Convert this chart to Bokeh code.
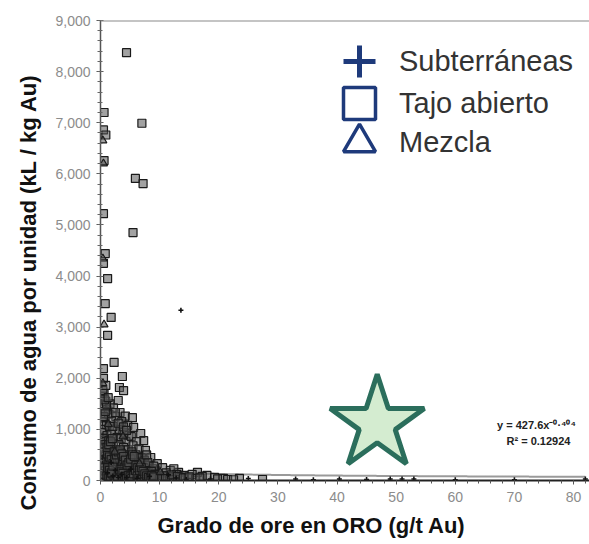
import numpy as np
from bokeh.plotting import figure
from bokeh.models import (Legend, LegendItem, Label, Span, Title,
                          SingleIntervalTicker, NumeralTickFormatter)
from bokeh.embed import file_html
from bokeh.resources import INLINE

# ---------------- data ----------------
# Tajo abierto (open pit) - squares
tajo_x = [4.4, 7.0, 5.9, 7.2, 5.5,
          0.6, 0.5, 0.9, 0.6, 0.5, 0.8, 0.5, 1.2, 0.8, 1.8, 1.2, 2.3, 0.5, 3.7, 0.5, 3.2, 3.9, 0.6, 3.0,
          0.3, 0.9, 0.5, 1.1, 0.4, 0.8, 0.3, 1.0, 0.6, 0.3, 1.1, 0.5, 0.9, 0.3, 0.7, 1.2, 0.4, 0.9, 0.3, 0.7,
          1.1, 0.4, 0.8, 0.3, 1.0, 0.5, 0.2, 0.2, 0.6,
          1.6, 2.2, 1.4, 2.6, 1.9, 1.5, 2.4, 1.8, 2.8, 1.4, 2.2, 1.7, 2.6, 1.5, 2.0, 2.9, 1.6, 2.3, 1.9, 2.7,
          1.4, 2.1, 2.5, 1.7, 2.9, 2.2, 1.5, 2.7, 2.0, 2.8,
          3.3, 4.2, 3.6, 4.6, 3.2, 4.0, 4.8, 3.5, 4.3, 3.1, 3.9, 4.7, 3.4, 4.2, 4.9, 3.6, 4.4, 3.2, 4.0, 4.7,
          3.5, 4.3, 3.1, 3.9, 4.6, 3.4, 4.2, 4.8, 3.7, 4.5,
          5.4, 5.6, 6.8, 7.3, 5.2, 6.1, 5.5, 6.5, 7.6, 5.3, 6.0, 6.9, 5.7, 6.4, 5.2, 6.1, 6.8, 5.5, 6.3, 5.8,
          6.7, 5.3, 6.0,
          8.5, 7.4, 9.6, 8.1, 7.2, 8.8, 9.4, 7.7, 8.4, 9.9, 7.3, 8.9, 9.5, 7.9,
          11.8, 13.2, 10.5, 12.4, 11.1, 12.9, 14.1, 10.7, 11.9, 13.6, 14.8, 10.3, 12.6,
          16.4, 18.0, 15.5, 17.2, 19.3, 20.8, 16.1, 21.5,
          27.4, 23.5,
          1.0, 1.3, 1.6, 1.9, 2.2, 2.5, 2.8, 3.1, 3.4, 3.7, 4.0,
          1.2, 1.5, 1.8, 2.1, 2.4, 2.7, 3.0, 3.3, 3.6, 3.9, 4.2,
          4.5, 4.8, 5.1, 5.4, 5.7, 6.0, 6.3, 6.6, 6.9, 7.1,
          1.1, 1.4, 1.7, 2.0, 2.3, 2.6, 2.9, 3.2, 3.5, 3.8, 4.1,
          4.4, 4.7, 5.0, 5.3, 5.6, 5.9, 6.2, 6.5, 6.8,
          0.5, 0.8, 1.0, 0.7, 0.4, 0.9, 1.3, 2.1, 3.0, 3.9, 4.4, 2.5,
          8.0, 9.0, 7.8, 8.6, 9.2, 10.0, 11.0, 12.0, 13.0, 14.0, 15.0, 16.8, 19.8, 22.5,
          1.1, 1.4, 1.7, 2.0, 2.3, 2.6, 2.9, 3.2, 3.5, 3.8, 4.1, 4.4, 4.7, 5.0, 5.3, 5.6, 5.9, 6.2,
          6.5, 6.8, 7.1, 7.4,
          1.2, 1.5, 1.8, 2.1, 2.4, 2.7, 3.0, 3.3, 3.6, 3.9, 4.2, 4.5, 4.8, 5.1, 5.4, 5.7, 6.0, 6.3,
          6.6, 6.9, 7.2, 7.5, 7.8, 8.1, 8.4, 8.7, 9.0]
tajo_y = [8370, 6990, 5910, 5810, 4850,
          7200, 6860, 6760, 6260, 5220, 4440, 4250, 3950, 3460, 3190, 2840, 2310, 2190, 2035, 2000, 1820, 1760, 1700, 1565,
          1650, 1550, 1460, 1380, 1300, 1220, 1150, 1080, 1000, 940, 880, 820, 760, 700, 640, 590, 530, 470, 410, 350,
          300, 240, 190, 130, 80, 30, 560, 260, 120,
          1500, 1420, 1300, 1250, 1160, 1060, 980, 900, 840, 780, 720, 650, 600, 540, 480, 440, 400, 360, 310, 270,
          230, 190, 150, 110, 80, 40, 20, 350, 250, 130,
          1330, 1260, 1150, 1080, 1000, 940, 880, 820, 760, 700, 650, 600, 550, 500, 460, 420, 380, 340, 300, 260,
          220, 180, 150, 110, 80, 50, 25, 140, 280, 330,
          1230, 1040, 920, 780, 860, 760, 680, 620, 590, 560, 500, 450, 400, 350, 300, 250, 210, 170, 130, 90,
          60, 30, 10,
          450, 400, 330, 300, 260, 230, 190, 160, 130, 100, 80, 60, 30, 20,
          200, 160, 250, 230, 150, 120, 100, 90, 70, 60, 40, 30, 20,
          160, 100, 120, 80, 60, 40, 40, 20,
          20, 40,
          420, 360, 300, 250, 200, 160, 120, 90, 70, 40, 20,
          520, 460, 410, 330, 280, 220, 180, 140, 100, 70, 120,
          200, 240, 160, 110, 60, 120, 180, 100, 150, 50,
          650, 700, 760, 820, 560, 480, 380, 450, 380, 320, 260,
          420, 340, 290, 380, 230, 320, 440, 280, 360,
          1250, 1350, 1480, 1580, 1760, 1860, 1620, 1060, 1120, 1050, 980, 1330,
          350, 280, 500, 180, 120, 60, 40, 110, 80, 50, 70, 50, 30, 15,
          90, 60, 30, 130, 90, 60, 30, 210, 170, 140, 80, 40, 100, 70, 40, 130, 200, 90,
          40, 20, 120, 60,
          250, 200, 150, 280, 420, 500, 560, 600, 520, 470, 400, 300, 350, 420, 500, 470, 300, 250,
          200, 250, 180, 130, 90, 60, 40, 100, 70]

# Subterráneas (underground) - crosses
sub_x = [13.6, 33.0, 40.4, 49.0, 51.0, 53.0, 82.0, 60.0, 70.0, 45.0, 36.0, 25.0,
         1.8, 2.5, 3.6, 4.4, 5.1, 1.2, 2.1, 3.0, 6.2, 8.3, 11.5, 12.8, 14.5, 18.6]
sub_y = [3330, 30, 30, 30, 30, 30, 30, 15, 15, 20, 15, 40,
         350, 200, 120, 60, 220, 150, 90, 60, 40, 80, 110, 50, 20, 30]

# Mezcla (mixed) - triangles
mez_x = [0.4, 0.5, 0.4, 0.6, 0.4, 1.3, 2.4, 3.8, 6.6, 10.1]
mez_y = [6650, 6200, 4340, 3050, 1900, 1100, 560, 860, 330, 160]

# highlighted point (star)
star_x = [46.8]
star_y = [1110]

# power-law trend line y = a * x^b, R^2
trend_a = 427.6
trend_b = -0.404
trend_r2 = 0.12924
trend_x = np.linspace(0.3, 82.0, 400)
trend_y = trend_a * trend_x ** trend_b

x_ticks_interval = 10
y_ticks_interval = 1000

# ---------------- figure ----------------
p = figure(width=589, height=544, x_range=(0, 82.7), y_range=(0, 9000),
           output_backend="svg", toolbar_location=None,
           min_border_left=100, min_border_right=0, min_border_top=20, min_border_bottom=64)
p.outline_line_color = None
p.xgrid.grid_line_color = None
p.ygrid.grid_line_color = None
p.background_fill_color = "white"
p.border_fill_color = "white"

p.add_layout(Span(location=9000, dimension="width", line_color="#8a8a8a", line_width=2))

TICK_FONT = "Liberation Sans"
xa = p.xaxis[0]
xa.ticker = SingleIntervalTicker(interval=x_ticks_interval, num_minor_ticks=5)
xa.axis_line_color = "#222222"
xa.axis_line_width = 2
xa.major_tick_line_color = "#555555"
xa.major_tick_in = 0
xa.major_tick_out = 4
xa.minor_tick_line_color = "#555555"
xa.minor_tick_in = 0
xa.minor_tick_out = 3
xa.major_label_text_font = TICK_FONT
xa.major_label_text_font_size = "14px"
xa.major_label_text_color = "#8c8c8c"
xa.major_label_standoff = 7

ya = p.yaxis[0]
ya.ticker = SingleIntervalTicker(interval=y_ticks_interval, num_minor_ticks=5)
ya.formatter = NumeralTickFormatter(format="0,0")
ya.axis_line_color = "#555555"
ya.axis_line_width = 1.5
ya.major_tick_line_color = "#555555"
ya.major_tick_in = 3
ya.major_tick_out = 4
ya.minor_tick_line_color = "#666666"
ya.minor_tick_in = 2
ya.minor_tick_out = 3
ya.major_label_text_font = TICK_FONT
ya.major_label_text_font_size = "14px"
ya.major_label_text_color = "#8c8c8c"
ya.major_label_standoff = 6

# axis titles (as side titles so they can be offset like the reference)
p.add_layout(Title(text="Grado de ore en ORO (g/t Au)", align="left", offset=57,
                   text_font="Liberation Sans", text_font_size="22px",
                   text_font_style="bold", text_color="#111111", standoff=13), "below")
p.add_layout(Title(text="Consumo de agua por unidad  (kL / kg Au)", align="left", offset=-30,
                   text_font="Liberation Sans", text_font_size="22px",
                   text_font_style="bold", text_color="#111111", standoff=24), "left")

# trend line
p.line(trend_x, trend_y, line_color="#9a9a9a", line_width=2)

# data
p.scatter(tajo_x, tajo_y, marker="square", size=8, line_color="#1a1a1a", line_width=1.2,
          fill_color="#555555", fill_alpha=0.55)
p.scatter(mez_x, mez_y, marker="triangle", size=8, line_color="#1a1a1a", line_width=1.2,
          fill_color="#555555", fill_alpha=0.55)
p.scatter(sub_x, sub_y, marker="cross", size=5, line_color="#111111", line_width=1.6)

p.scatter(star_x, star_y, marker="star", size=99, fill_color="#d4ecd0",
          line_color="#2b6e5c", line_width=5)

# equation
p.add_layout(Label(x=436, y=56, x_units="screen", y_units="screen",
                   text=f"y = {trend_a}x\u207b\u2070\u00b7\u2074\u2070\u2074",
                   text_align="center", text_baseline="middle", text_font="Liberation Sans",
                   text_font_size="11px", text_font_style="bold", text_color="#222222"))
p.add_layout(Label(x=438, y=40, x_units="screen", y_units="screen",
                   text=f"R\u00b2 = {trend_r2}",
                   text_align="center", text_baseline="middle", text_font="Liberation Sans",
                   text_font_size="11px", text_font_style="bold", text_color="#222222"))

# legend (large navy symbols), one single-entry legend per row
NAVY = "#1e3a7b"
leg_sub = p.scatter(sub_x[:1], sub_y[:1], marker="cross", size=32, line_color=NAVY,
                    line_width=5, visible=False)
leg_taj = p.scatter(tajo_x[:1], tajo_y[:1], marker="square", size=32, fill_color=None,
                    line_color=NAVY, line_width=3.5, visible=False)
leg_mez = p.scatter(mez_x[:1], mez_y[:1], marker="triangle", size=32, fill_color=None,
                    line_color=NAVY, line_width=3.5, visible=False)

legend_rows = [("Subterráneas", leg_sub, 379), ("Tajo abierto", leg_taj, 337), ("Mezcla", leg_mez, 298)]
for lab, rend, vy in legend_rows:
    lg = Legend(items=[LegendItem(label=lab, renderers=[rend])],
                location=(219, vy), glyph_width=80, glyph_height=80, spacing=0,
                padding=0, margin=0, label_standoff=0,
                label_text_font="Liberation Sans", label_text_font_size="29px",
                label_text_color="#333333", background_fill_alpha=0,
                border_line_color=None)
    p.add_layout(lg)

open("out.html", "w").write(file_html(p, INLINE))
